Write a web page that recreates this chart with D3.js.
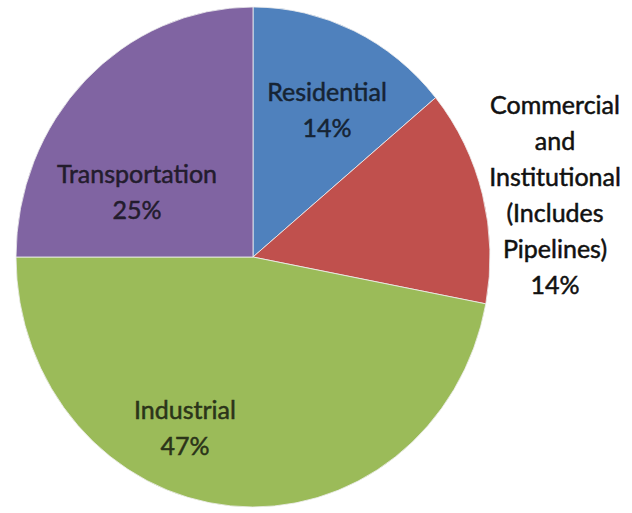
<!DOCTYPE html>
<html lang='en'>
<head>
    <meta charset='utf-8'>
    <title>Emissions by sector</title>
    <script src="https://d3js.org/d3.v7.min.js"></script>
    <style>
        body { margin: 0; background: white; }
        text { font-family: Lato, "Open Sans", sans-serif; }
    </style>
</head>
<body>
    <div id='chart'></div>
    <script>
        // data
        const sectors = ['Residential', 'Commercial and Institutional (Includes Pipelines)', 'Industrial', 'Transportation'];
        const shares = [14, 14, 47, 25];
        const colors = ['#4f81bd', '#c0504d', '#9bbb59', '#8064a2'];
        const labelLines = [
            ['Residential', '14%'],
            ['Commercial', 'and', 'Institutional', '(Includes', 'Pipelines)', '14%'],
            ['Industrial', '47%'],
            ['Transportation', '25%']
        ];

        let size = {width: 632, height: 513}
        let cx = 253, cy = 257, rx = 237, ry = 250;

        let svg = d3.select("#chart")
                    .append("svg")
                        .attr("width", size.width)
                        .attr("height", size.height);

        let data = sectors.map((s, i) => ({name: s, value: shares[i], color: colors[i], lines: labelLines[i]}));

        let pie = d3.pie().sort(null).value(d => d.value);
        let arc = d3.arc().innerRadius(0).outerRadius(rx);
        let arcs = pie(data);

        // pie is drawn slightly taller than wide, like the picture
        let pieG = svg.append("g")
                    .attr("transform", `translate(${cx},${cy}) scale(1,${ry/rx})`);

        pieG.selectAll("path")
            .data(arcs)
            .enter()
            .append("path")
                .attr("d", arc)
                .attr("fill", d => d.data.color)
                .attr("stroke", "#eeeeee")
                .attr("stroke-width", 0.8);

        // label block centres, relative to the pie centre
        let placeLabel = (d, i) => {
            if (i === 0) return [327 - cx, 110 - cy];
            if (i === 1) return [555 - cx, 195 - cy];
            if (i === 2) return [185 - cx, 428 - cy];
            return [137 - cx, 192 - cy];
        }

        let lineH = 36;
        arcs.forEach((d, i) => {
            let [lx, ly] = placeLabel(d, i);
            let n = d.data.lines.length;
            let ink = i === 1 ? '#111111' : d3.color(d.data.color).darker(3.6).formatHex();
            let t = svg.append("text")
                .attr("text-anchor", "middle")
                .attr("fill", ink)
                .attr("stroke", ink)
                .attr("stroke-width", 0.5)
                .style("font-size", "25px");
            d.data.lines.forEach((line, j) => {
                t.append("tspan")
                    .attr("x", cx + lx)
                    .attr("y", cy + ly + (j - (n - 1) / 2) * lineH + 9)
                    .text(line);
            });
        });
    </script>
</body>
</html>
